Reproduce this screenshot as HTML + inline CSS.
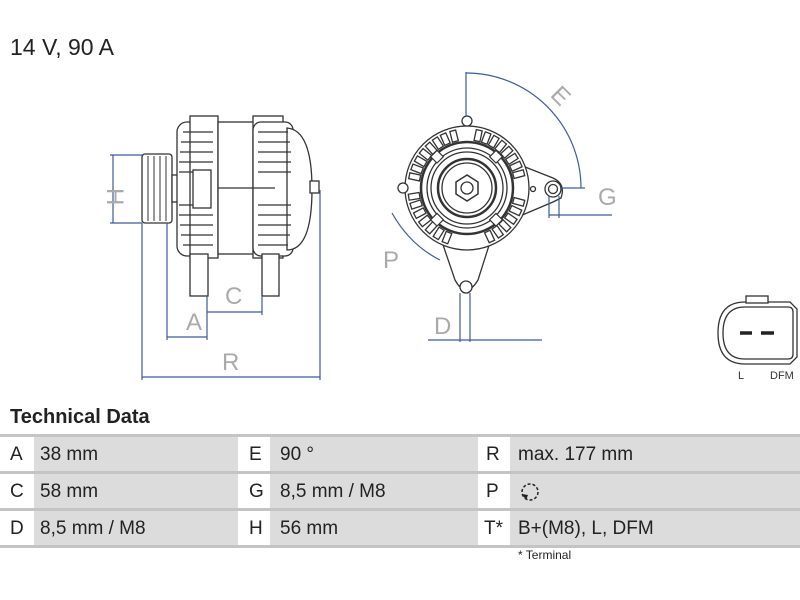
<!DOCTYPE html>
<html><head><meta charset="utf-8"><style>
body{margin:0;width:800px;height:600px;background:#fff;font-family:"Liberation Sans",sans-serif;position:relative;overflow:hidden}
.t{position:absolute;color:#222}
.row{position:absolute;left:0;width:800px;height:34px}
.c{position:absolute;top:0;height:34px;line-height:36px;font-size:19px;color:#222}
.g{background:#dcdcdc}
.sep{position:absolute;left:0;width:800px;height:3px;background:#c4c4c4}
</style></head><body>
<div class="t" style="left:10px;top:34px;font-size:23px">14 V, 90 A</div>
<svg width="800" height="400" style="position:absolute;left:0;top:0" font-family="Liberation Sans">
<defs><rect id="sl" x="48" y="-3" width="11" height="6" fill="#fff" stroke="#333" stroke-width="1.3"/></defs>
<g stroke="#333" stroke-width="1.3" fill="#fff">
<rect x="142" y="154" width="30" height="69" rx="3"/>
<g stroke-width="1"><line x1="148" y1="156" x2="148" y2="221"/><line x1="154" y1="156" x2="154" y2="221"/><line x1="160" y1="156" x2="160" y2="221"/><line x1="166" y1="156" x2="166" y2="221"/></g>
<rect x="172" y="175" width="6" height="27"/>
<rect x="177" y="122" width="42" height="134" rx="10"/>
<rect x="190" y="116" width="28" height="142"/>
<rect x="218" y="122" width="36" height="132"/>
<rect x="253" y="116" width="30" height="142"/>
<rect x="253" y="122" width="40" height="134" rx="8"/>
<path d="M287 128 Q312 130 312 189 Q312 250 287 250 Z"/>
<rect x="310" y="181" width="9" height="12"/>
<line x1="218" y1="188" x2="275" y2="188"/>
<rect x="193" y="170" width="18" height="38"/>
<g stroke-width="1.2">
<path d="M183 132h30M181 142h32M180 152h33M179 162h34M179 172h14M179 205h14M179 215h34M180 225h33M181 235h32M183 245h30"/>
<path d="M258 132h30M258 142h32M258 152h33M258 162h33M258 172h33M258 205h33M258 215h33M258 225h33M258 235h32M258 245h30"/>
</g>
<rect x="190" y="254" width="18" height="42"/>
<rect x="262" y="254" width="17" height="42"/>
<path d="M520 165 L553 178 Q566 184 561 198 L553 202 L520 216 Z"/>
<path d="M440 236 L455 280 Q466 300 478 280 L492 236 Z"/>
<circle cx="467" cy="188" r="62"/>
<circle cx="467" cy="121" r="5"/>
<circle cx="403" cy="188" r="5"/>
<circle cx="553" cy="189" r="8"/>
<circle cx="553" cy="189" r="4.5"/>
<circle cx="533" cy="189" r="2.5"/>
<circle cx="466" cy="287" r="6"/>
<path d="M745 302 H790 L797 309 V357 L790 364 H745 Q718 364 718 333 Q718 302 745 302 Z"/>
<path d="M745 307 H788 Q793 307 793 312 V354 Q793 359 788 359 H745 Q723 359 723 333 Q723 307 745 307 Z"/>
<rect x="746" y="296" width="22" height="7"/>
</g>
<g transform="translate(467 188)">
<use href="#sl" transform="rotate(15)"/><use href="#sl" transform="rotate(25)"/><use href="#sl" transform="rotate(35)"/><use href="#sl" transform="rotate(45)"/><use href="#sl" transform="rotate(55)"/><use href="#sl" transform="rotate(65)"/>
<use href="#sl" transform="rotate(112)"/><use href="#sl" transform="rotate(122)"/><use href="#sl" transform="rotate(132)"/><use href="#sl" transform="rotate(142)"/><use href="#sl" transform="rotate(152)"/><use href="#sl" transform="rotate(162)"/><use href="#sl" transform="rotate(171)"/>
<use href="#sl" transform="rotate(192)"/><use href="#sl" transform="rotate(201)"/><use href="#sl" transform="rotate(210)"/><use href="#sl" transform="rotate(219)"/><use href="#sl" transform="rotate(228)"/><use href="#sl" transform="rotate(237)"/><use href="#sl" transform="rotate(246)"/><use href="#sl" transform="rotate(256)"/>
<use href="#sl" transform="rotate(282)"/><use href="#sl" transform="rotate(291)"/><use href="#sl" transform="rotate(300)"/><use href="#sl" transform="rotate(309)"/><use href="#sl" transform="rotate(318)"/><use href="#sl" transform="rotate(327)"/><use href="#sl" transform="rotate(336)"/><use href="#sl" transform="rotate(345)"/>
</g>
<g stroke="#333" fill="none">
<circle cx="467" cy="188" r="46" stroke-width="2.5"/>
<circle cx="467" cy="188" r="40" stroke-width="1.3"/>
<circle cx="467" cy="188" r="36" stroke-width="1.3"/>
<circle cx="467" cy="188" r="29" stroke-width="2.5"/>
<circle cx="467" cy="188" r="25" stroke-width="1.3"/>
<g stroke-width="1.2" fill="#fff">
<rect x="433" y="152" width="9" height="9" transform="rotate(45 437 156)"/>
<rect x="492" y="152" width="9" height="9" transform="rotate(45 496 156)"/>
<rect x="433" y="215" width="9" height="9" transform="rotate(45 437 219)"/>
<rect x="492" y="215" width="9" height="9" transform="rotate(45 496 219)"/>
</g>
<polygon points="456,182 467,175 478,182 478,194 467,201 456,194" stroke-width="1.5"/>
<circle cx="467" cy="188" r="6" stroke-width="1.3"/>
</g>
<g stroke="#222" stroke-width="3.5"><line x1="740" y1="333" x2="752" y2="333"/><line x1="761" y1="333" x2="774" y2="333"/></g>
<text x="738" y="379" font-size="11" fill="#333">L</text>
<text x="770" y="379" font-size="11" fill="#333">DFM</text>
<g stroke="#3c5a9a" stroke-width="1.2" fill="none">
<line x1="110" y1="155" x2="142" y2="155"/><line x1="110" y1="223" x2="142" y2="223"/><line x1="113" y1="155" x2="113" y2="223"/>
<line x1="142" y1="223" x2="142" y2="380"/><line x1="320" y1="190" x2="320" y2="380"/><line x1="142" y1="377" x2="320" y2="377"/>
<line x1="167" y1="223" x2="167" y2="340"/><line x1="207" y1="296" x2="207" y2="340"/><line x1="167" y1="337" x2="207" y2="337"/>
<line x1="262" y1="296" x2="262" y2="315"/><line x1="207" y1="312" x2="262" y2="312"/>
<line x1="466" y1="72" x2="466" y2="116"/>
<path d="M466 73 A115 115 0 0 1 581 188"/>
<line x1="560" y1="188" x2="585" y2="188"/>
<line x1="549" y1="196" x2="549" y2="218"/><line x1="559" y1="196" x2="559" y2="218"/><line x1="549" y1="215" x2="612" y2="215"/>
<path d="M392 213 Q410 245 440 260"/>
<line x1="460" y1="293" x2="460" y2="342"/><line x1="470" y1="293" x2="470" y2="342"/><line x1="428" y1="340" x2="542" y2="340"/>
</g>
<g fill="#aaa" font-size="24" font-family="Liberation Sans">
<text x="186" y="330">A</text><text x="225" y="304">C</text><text x="222" y="370">R</text>
<text x="97" y="178" transform="rotate(90 97 188)">H</text>
<text x="598" y="205">G</text><text x="434" y="334">D</text><text x="383" y="268">P</text>
<text x="553" y="103" transform="rotate(45 560 95)">E</text>
</g>
</svg>
<div class="t" style="left:10px;top:406px;font-size:20px;font-weight:bold">Technical Data</div>
<div class="sep" style="top:434px"></div>
<div class="row" style="top:437px">
<div class="c" style="left:10px">A</div><div class="c g" style="left:34px;width:204px;padding-left:6px;box-sizing:border-box">38 mm</div>
<div class="c" style="left:249px">E</div><div class="c g" style="left:270px;width:208px;padding-left:10px;box-sizing:border-box">90 °</div>
<div class="c" style="left:486px">R</div><div class="c g" style="left:510px;width:290px;padding-left:8px;box-sizing:border-box">max. 177 mm</div>
</div>
<div class="sep" style="top:471px"></div>
<div class="row" style="top:474px">
<div class="c" style="left:10px">C</div><div class="c g" style="left:34px;width:204px;padding-left:6px;box-sizing:border-box">58 mm</div>
<div class="c" style="left:249px">G</div><div class="c g" style="left:270px;width:208px;padding-left:10px;box-sizing:border-box">8,5 mm / M8</div>
<div class="c" style="left:486px">P</div><div class="c g" style="left:510px;width:290px;padding-left:8px;box-sizing:border-box"><svg width="24" height="24" style="vertical-align:middle"><circle cx="12" cy="12" r="8" fill="none" stroke="#222" stroke-width="1.5" stroke-dasharray="3 2"/><path d="M4 14l4 6 2-5z" fill="#222"/></svg></div>
</div>
<div class="sep" style="top:508px"></div>
<div class="row" style="top:511px">
<div class="c" style="left:10px">D</div><div class="c g" style="left:34px;width:204px;padding-left:6px;box-sizing:border-box">8,5 mm / M8</div>
<div class="c" style="left:249px">H</div><div class="c g" style="left:270px;width:208px;padding-left:10px;box-sizing:border-box">56 mm</div>
<div class="c" style="left:484px">T*</div><div class="c g" style="left:510px;width:290px;padding-left:8px;box-sizing:border-box">B+(M8), L, DFM</div>
</div>
<div class="sep" style="top:545px"></div>
<div class="t" style="left:518px;top:548px;font-size:12px">* Terminal</div>
</body></html>
